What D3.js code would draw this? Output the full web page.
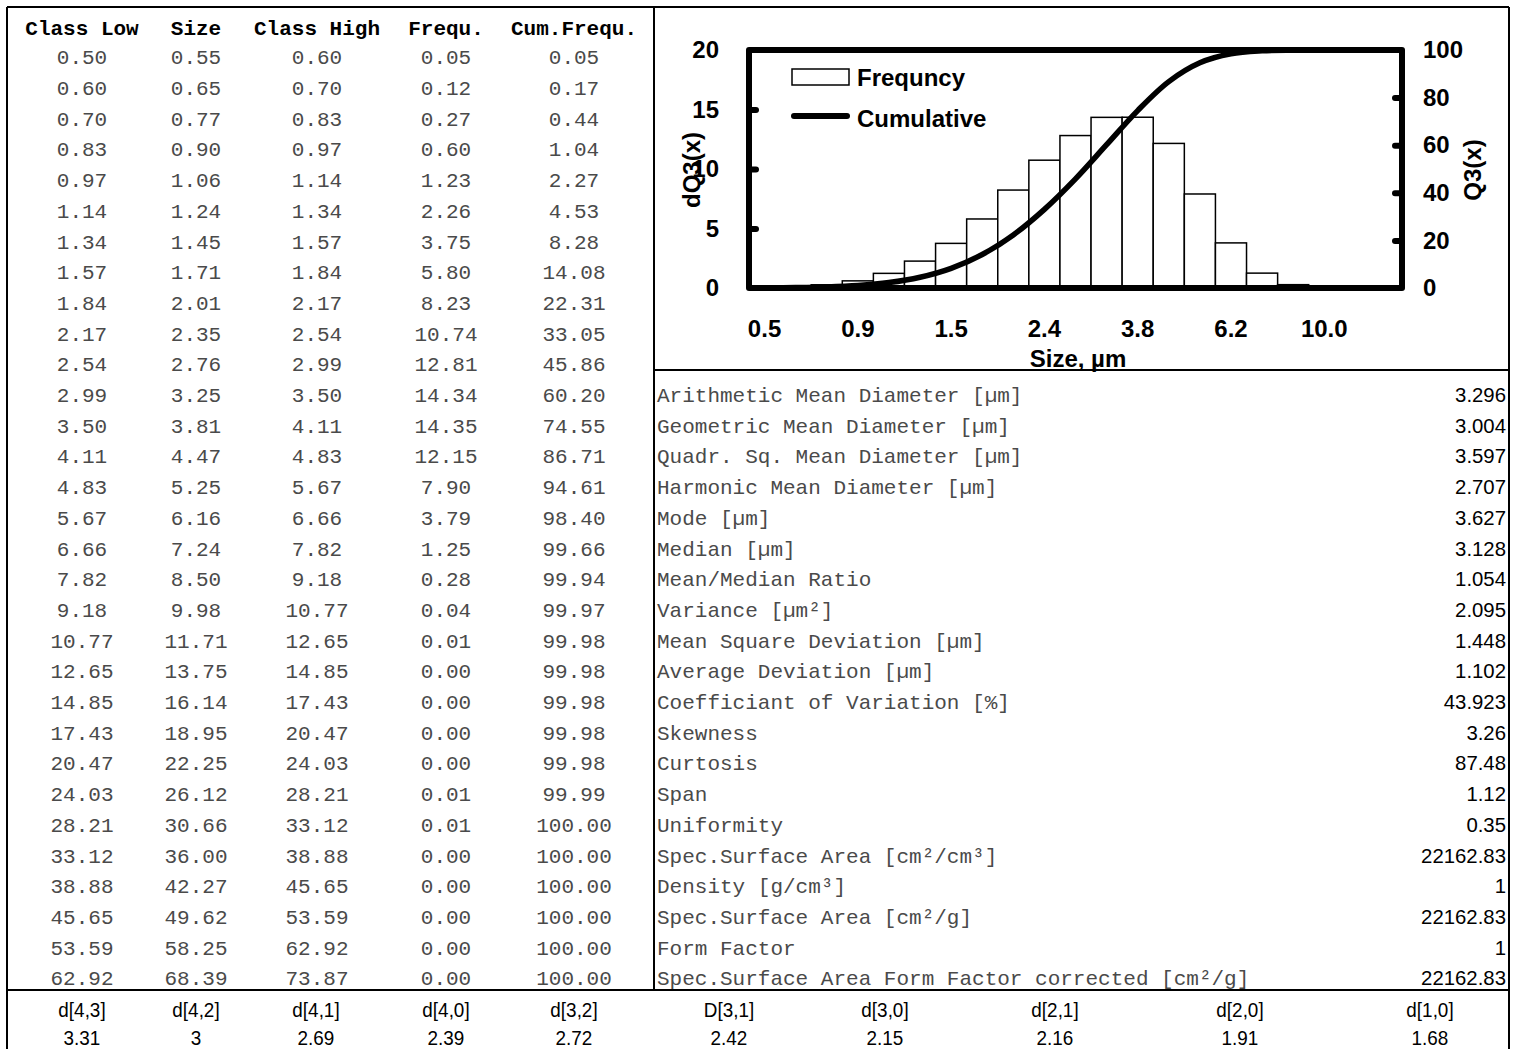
<!DOCTYPE html>
<html>
<head>
<meta charset="utf-8">
<script src="https://cdn.jsdelivr.net/npm/d3@7"></script>
<style>
  body { margin: 0; background: #fff; }
  svg { display: block; }
  .mono { font-family: "Courier New", "Liberation Mono", monospace; font-size: 21px; }
  .chart text { font-family: Arial, "Liberation Sans", sans-serif; font-weight: bold; font-size: 24px; fill: #000; }
  .narrow { font-family: Arial, "Liberation Sans", sans-serif; font-size: 21px; }
</style>
</head>
<body>
<svg id="sheet" width="1513" height="1049"></svg>
<script>
// table data
var classLow = [0.50, 0.60, 0.70, 0.83, 0.97, 1.14, 1.34, 1.57, 1.84, 2.17, 2.54, 2.99, 3.50, 4.11, 4.83, 5.67, 6.66, 7.82, 9.18, 10.77, 12.65, 14.85, 17.43, 20.47, 24.03, 28.21, 33.12, 38.88, 45.65, 53.59, 62.92];
var sizes = [0.55, 0.65, 0.77, 0.90, 1.06, 1.24, 1.45, 1.71, 2.01, 2.35, 2.76, 3.25, 3.81, 4.47, 5.25, 6.16, 7.24, 8.50, 9.98, 11.71, 13.75, 16.14, 18.95, 22.25, 26.12, 30.66, 36.00, 42.27, 49.62, 58.25, 68.39];
var classHigh = [0.60, 0.70, 0.83, 0.97, 1.14, 1.34, 1.57, 1.84, 2.17, 2.54, 2.99, 3.50, 4.11, 4.83, 5.67, 6.66, 7.82, 9.18, 10.77, 12.65, 14.85, 17.43, 20.47, 24.03, 28.21, 33.12, 38.88, 45.65, 53.59, 62.92, 73.87];
var frequ = [0.05, 0.12, 0.27, 0.60, 1.23, 2.26, 3.75, 5.80, 8.23, 10.74, 12.81, 14.34, 14.35, 12.15, 7.90, 3.79, 1.25, 0.28, 0.04, 0.01, 0.00, 0.00, 0.00, 0.00, 0.01, 0.01, 0.00, 0.00, 0.00, 0.00, 0.00];
var cumFrequ = [0.05, 0.17, 0.44, 1.04, 2.27, 4.53, 8.28, 14.08, 22.31, 33.05, 45.86, 60.20, 74.55, 86.71, 94.61, 98.40, 99.66, 99.94, 99.97, 99.98, 99.98, 99.98, 99.98, 99.98, 99.99, 100.00, 100.00, 100.00, 100.00, 100.00, 100.00];
var tableHeaders = ["Class Low", "Size", "Class High", "Frequ.", "Cum.Frequ."];

// statistics block
var statLabels = ["Arithmetic Mean Diameter [µm]", "Geometric Mean Diameter [µm]", "Quadr. Sq. Mean Diameter [µm]",
  "Harmonic Mean Diameter [µm]", "Mode [µm]", "Median [µm]", "Mean/Median Ratio", "Variance [µm²]",
  "Mean Square Deviation [µm]", "Average Deviation [µm]", "Coefficiant of Variation [%]", "Skewness", "Curtosis",
  "Span", "Uniformity", "Spec.Surface Area [cm²/cm³]", "Density [g/cm³]", "Spec.Surface Area [cm²/g]",
  "Form Factor", "Spec.Surface Area Form Factor corrected [cm²/g]"];
var statValues = ["3.296", "3.004", "3.597", "2.707", "3.627", "3.128", "1.054", "2.095", "1.448", "1.102",
  "43.923", "3.26", "87.48", "1.12", "0.35", "22162.83", "1", "22162.83", "1", "22162.83"];

// mean diameters row
var dLabels = ["d[4,3]", "d[4,2]", "d[4,1]", "d[4,0]", "d[3,2]", "D[3,1]", "d[3,0]", "d[2,1]", "d[2,0]", "d[1,0]"];
var dValues = ["3.31", "3", "2.69", "2.39", "2.72", "2.42", "2.15", "2.16", "1.91", "1.68"];

// chart settings
var chartClasses = 21;
var xTickIndex = [0, 3, 6, 9, 12, 15, 18];
var xTickLabels = ["0.5", "0.9", "1.5", "2.4", "3.8", "6.2", "10.0"];
var leftTicks = [0, 5, 10, 15, 20];
var rightTicks = [0, 20, 40, 60, 80, 100];

var svg = d3.select("#sheet");

// layout
var colX = [82, 196, 317, 446, 574];
var rowY0 = 57, rowH = 30.7;
var dColX = [82, 196, 316, 446, 574, 729, 885, 1055, 1240, 1430];

drawFrame();
drawTable();
drawStats();
drawChart();
drawBottom();

function drawFrame() {
    var g = svg.append("g").attr("stroke", "#000").attr("stroke-width", 2).attr("fill", "none");
    g.append("line").attr("x1", 7).attr("x2", 7).attr("y1", 7).attr("y2", 1049);
    g.append("line").attr("x1", 1509).attr("x2", 1509).attr("y1", 7).attr("y2", 1049);
    g.append("line").attr("x1", 7).attr("x2", 1509).attr("y1", 7).attr("y2", 7);
    g.append("line").attr("x1", 654).attr("x2", 654).attr("y1", 7).attr("y2", 990);
    g.append("line").attr("x1", 654).attr("x2", 1509).attr("y1", 370).attr("y2", 370);
    g.append("line").attr("x1", 7).attr("x2", 1509).attr("y1", 990).attr("y2", 990);
}

function drawTable() {
    var g = svg.append("g").attr("class", "mono");
    g.selectAll(".hdr")
        .data(tableHeaders)
        .enter()
        .append("text")
        .attr("class", "hdr")
        .attr("x", function (d, i) { return colX[i]; })
        .attr("y", 28)
        .attr("dy", "0.35em")
        .attr("text-anchor", "middle")
        .attr("font-weight", "bold")
        .text(function (d) { return d; });

    var cols = [classLow, sizes, classHigh, frequ, cumFrequ];
    cols.forEach(function (col, c) {
        g.selectAll(".c" + c)
            .data(col)
            .enter()
            .append("text")
            .attr("class", "c" + c)
            .attr("x", colX[c])
            .attr("y", function (d, i) { return rowY0 + rowH * i; })
            .attr("dy", "0.35em")
            .attr("text-anchor", "middle")
            .attr("fill", "#4a4a4a")
            .text(function (d) { return d.toFixed(2); });
    });
}

// text squeezed horizontally around its anchor point
function narrowText(g, cls, data, xFn, yFn, anchor, squeeze) {
    g.selectAll("." + cls)
        .data(data)
        .enter()
        .append("text")
        .attr("class", cls + " narrow")
        .attr("transform", function (d, i) { return "translate(" + xFn(d, i) + "," + yFn(d, i) + ") scale(" + squeeze + ",1)"; })
        .attr("dy", "0.35em")
        .attr("text-anchor", anchor)
        .text(function (d) { return d; });
}

function drawStats() {
    var first = classLow.length - statLabels.length;
    var g = svg.append("g");
    g.selectAll(".slabel")
        .data(statLabels)
        .enter()
        .append("text")
        .attr("class", "slabel mono")
        .attr("x", 657)
        .attr("y", function (d, i) { return rowY0 + rowH * (first + i); })
        .attr("dy", "0.35em")
        .attr("fill", "#4a4a4a")
        .text(function (d) { return d; });
    narrowText(g, "svalue", statValues, function () { return 1506; },
        function (d, i) { return rowY0 + rowH * (first + i); }, "end", 0.97);
}

function drawChart() {
    var left = 749, right = 1402, top = 50, bottom = 288;
    var x = d3.scaleLinear().domain([0, chartClasses]).range([left, right]);
    var yL = d3.scaleLinear().domain([0, 20]).range([bottom, top]);
    var yR = d3.scaleLinear().domain([0, 100]).range([bottom, top]);

    var g = svg.append("g").attr("class", "chart");

    var shown = frequ.slice(0, chartClasses);
    g.selectAll(".bar")
        .data(shown)
        .enter()
        .append("rect")
        .attr("class", "bar")
        .attr("x", function (d, i) { return x(i); })
        .attr("width", x(1) - x(0))
        .attr("y", function (d) { return yL(d); })
        .attr("height", function (d) { return bottom - yL(d); })
        .attr("fill", "#fff")
        .attr("stroke", "#000")
        .attr("stroke-width", 1.5);

    // cumulative curve
    var line = d3.line()
        .x(function (d, i) { return x(i + 0.5); })
        .y(function (d) { return yR(d); })
        .curve(d3.curveCatmullRom);
    g.append("path")
        .datum(cumFrequ.slice(0, chartClasses))
        .attr("d", line)
        .attr("fill", "none")
        .attr("stroke", "#000")
        .attr("stroke-width", 5.5)
        .attr("stroke-linejoin", "round");

    // frame
    var fr = g.append("g").attr("stroke", "#000").attr("stroke-width", 6).attr("stroke-linecap", "round");
    fr.append("line").attr("x1", left).attr("x2", right).attr("y1", top).attr("y2", top);
    fr.append("line").attr("x1", left).attr("x2", right).attr("y1", bottom).attr("y2", bottom);

    var axL = g.append("g").attr("transform", "translate(" + left + ",0)")
        .call(d3.axisLeft(yL).tickValues(leftTicks).tickSize(-8).tickPadding(30));
    var axR = g.append("g").attr("transform", "translate(" + right + ",0)")
        .call(d3.axisRight(yR).tickValues(rightTicks).tickSize(-8).tickPadding(21));
    [axL, axR].forEach(function (ax) {
        ax.select(".domain").attr("stroke-width", 6).attr("d", "M0," + top + "V" + bottom);
        ax.selectAll(".tick line").attr("stroke-width", 6).attr("stroke-linecap", "round");
        ax.selectAll("text").attr("font-size", 24).attr("font-family", null);
    });
    axL.selectAll(".tick line").attr("x2", 7);
    axR.selectAll(".tick line").attr("x2", -7);
    axL.selectAll(".tick").filter(function (d) { return d === 0 || d === 20; }).select("line").remove();
    axR.selectAll(".tick").filter(function (d) { return d === 0 || d === 100; }).select("line").remove();

    g.selectAll(".xt")
        .data(xTickIndex)
        .enter()
        .append("text")
        .attr("class", "xt")
        .attr("x", function (d) { return x(d + 0.5); })
        .attr("y", 337)
        .attr("text-anchor", "middle")
        .text(function (d, i) { return xTickLabels[i]; });

    g.append("text").attr("x", 1078).attr("y", 367).attr("text-anchor", "middle").text("Size, µm");
    g.append("text").attr("transform", "translate(700,170) rotate(-90)").attr("text-anchor", "middle").text("dQ3(x)");
    g.append("text").attr("transform", "translate(1481,170) rotate(-90)").attr("text-anchor", "middle").text("Q3(x)");

    // legend
    g.append("rect").attr("x", 792).attr("y", 69).attr("width", 57).attr("height", 16)
        .attr("fill", "#fff").attr("stroke", "#000").attr("stroke-width", 1.5);
    g.append("line").attr("x1", 794).attr("x2", 847).attr("y1", 116).attr("y2", 116)
        .attr("stroke", "#000").attr("stroke-width", 6).attr("stroke-linecap", "round");
    g.append("text").attr("x", 857).attr("y", 86).text("Frequncy");
    g.append("text").attr("x", 857).attr("y", 127).text("Cumulative");
}

function drawBottom() {
    var g = svg.append("g");
    narrowText(g, "dl", dLabels, function (d, i) { return dColX[i]; }, function () { return 1010; }, "middle", 0.9);
    narrowText(g, "dv", dValues, function (d, i) { return dColX[i]; }, function () { return 1038; }, "middle", 0.9);
}
</script>
</body>
</html>
